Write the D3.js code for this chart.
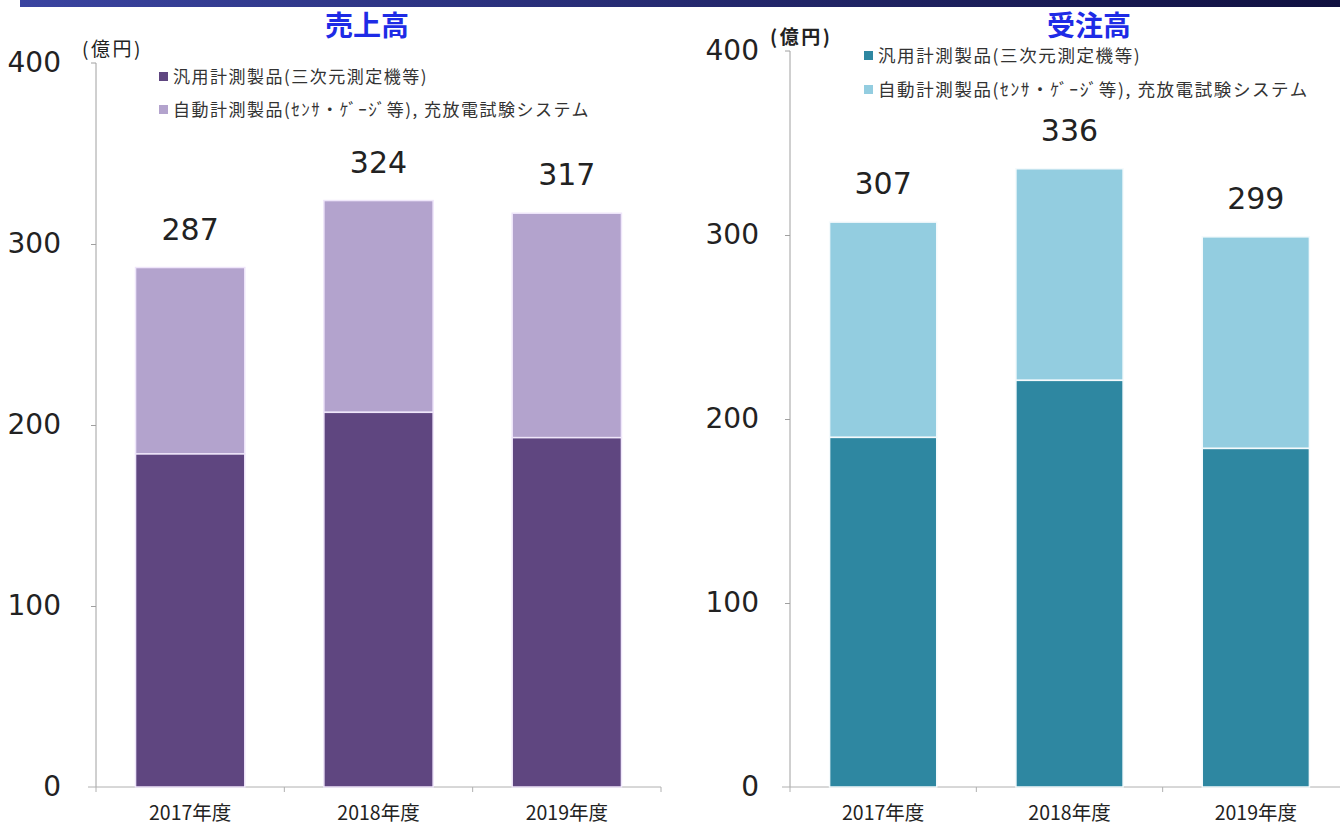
<!DOCTYPE html>
<html>
<head>
<meta charset="utf-8">
<script src="https://cdn.jsdelivr.net/npm/d3@7"></script>
<style>
  body { margin: 0; background: #fff; }
  svg { display: block; }
</style>
</head>
<body>
<svg id="chart" width="1340" height="826"></svg>
<script>
// Daten
var years = ["2017年度", "2018年度", "2019年度"];
var seriesNames = ["汎用計測製品(三次元測定機等)", "自動計測製品(ｾﾝｻ・ｹﾞｰｼﾞ等), 充放電試験システム"];
var salesGeneral = [184, 207, 193];
var salesAuto = [103, 117, 124];
var salesTotal = [287, 324, 317];
var ordersGeneral = [190, 221, 184];
var ordersAuto = [117, 115, 115];
var ordersTotal = [307, 336, 299];
var yTicks = [0, 100, 200, 300, 400];

var svg = d3.select("#chart");
var jp = "'Noto Sans CJK JP', 'Noto Sans', sans-serif";
var num = "'DejaVu Sans', Verdana, sans-serif";

// Band oben
var grad = svg.append("defs").append("linearGradient").attr("id", "band");
grad.append("stop").attr("offset", "0%").attr("stop-color", "#3a44a0");
grad.append("stop").attr("offset", "100%").attr("stop-color", "#101040");
svg.append("rect").attr("x", 20).attr("y", 0).attr("width", 1320).attr("height", 7).attr("fill", "url(#band)");

function drawPanel(opt) {
  var g = svg.append("g");
  var x = d3.scaleBand().domain(years).range([opt.x0, opt.x1]).paddingInner(opt.pad).paddingOuter(opt.pad / 2);
  var y = d3.scaleLinear().domain([0, 400]).range([opt.y0, opt.y1]);

  // Titel
  g.append("text").attr("x", opt.titleX).attr("y", opt.titleY).attr("text-anchor", "middle")
    .attr("font-family", jp).attr("font-weight", "bold").attr("font-size", 28).attr("fill", "#1e2be6")
    .text(opt.title);

  // y Achse
  var yAxis = g.append("g").attr("transform", "translate(" + opt.x0 + ",0)")
    .call(d3.axisLeft(y).tickValues(yTicks).tickSize(5).tickPadding(opt.tickPad));
  yAxis.select(".domain").attr("stroke", "#a0a0a0").attr("d", "M-5," + y(400) + "H0V" + y(0));
  yAxis.selectAll(".tick line").attr("stroke", "#a0a0a0");
  yAxis.selectAll(".tick text").attr("font-family", num).attr("font-size", 28).attr("fill", "#222")
    .attr("dy", "0.3em");
  yAxis.selectAll(".tick").filter(function(d) { return d === 0 || d === 400; }).select("line").remove();

  // x Achse
  var ticksX = years.map(function(d) { return x(d) - x.step() * x.paddingInner() / 2; });
  ticksX.push(opt.x1);
  g.append("line").attr("x1", opt.x0 - 8).attr("x2", opt.x1).attr("y1", y(0)).attr("y2", y(0))
    .attr("stroke", "#b0b0b0");
  g.selectAll(".xt").data(ticksX).enter().append("line")
    .attr("x1", function(d) { return d; }).attr("x2", function(d) { return d; })
    .attr("y1", y(0)).attr("y2", y(0) + 5).attr("stroke", "#b0b0b0");
  g.selectAll(".xl").data(years).enter().append("text")
    .attr("x", function(d) { return x(d) + x.bandwidth() / 2; }).attr("y", 820)
    .attr("text-anchor", "middle").attr("font-family", jp).attr("font-size", 19.5).attr("fill", "#222")
    .text(function(d) { return d; });

  // Balken
  var rows = years.map(function(d, i) { return { year: d, a: opt.lower[i], b: opt.upper[i], t: opt.total[i] }; });
  var bars = g.selectAll(".bar").data(rows).enter().append("g");
  bars.append("rect").attr("x", function(d) { return x(d.year); }).attr("width", x.bandwidth())
    .attr("y", function(d) { return y(d.a + d.b); }).attr("height", function(d) { return y(d.a) - y(d.a + d.b); })
    .attr("fill", opt.c2).attr("stroke", opt.edge).attr("stroke-width", 1.5);
  bars.append("rect").attr("x", function(d) { return x(d.year); }).attr("width", x.bandwidth())
    .attr("y", function(d) { return y(d.a); }).attr("height", function(d) { return y(0) - y(d.a); })
    .attr("fill", opt.c1).attr("stroke", opt.edge).attr("stroke-width", 1.5);
  bars.append("text").attr("x", function(d) { return x(d.year) + x.bandwidth() / 2; })
    .attr("y", function(d) { return y(d.t) - 28; }).attr("text-anchor", "middle")
    .attr("font-family", num).attr("font-size", 30).attr("fill", "#222")
    .text(function(d) { return d.t; });

  // Einheit
  g.append("text").attr("x", opt.unitX).attr("y", opt.unitY).attr("font-family", jp)
    .attr("font-size", 19).attr("letter-spacing", 2.5)
    .attr("font-weight", opt.unitBold ? "bold" : "normal").attr("fill", "#222").text("(億円)");

  // Legende
  [opt.c1, opt.c2].forEach(function(c, i) {
    g.append("rect").attr("x", opt.legX).attr("y", opt.legY + i * opt.legStep - 5).attr("width", 9).attr("height", 9)
      .attr("fill", c);
    g.append("text").attr("x", opt.legX + 14).attr("y", opt.legY + i * opt.legStep).attr("dy", "0.35em")
      .attr("font-family", jp).attr("font-size", opt.legSize).attr("letter-spacing", opt.legSpace)
      .attr("fill", "#333").text(seriesNames[i]);
  });
}

drawPanel({
  title: "売上高", titleX: 367, titleY: 36,
  x0: 96, x1: 661, y0: 787, y1: 63, pad: 0.42, tickPad: 30,
  lower: salesGeneral, upper: salesAuto, total: salesTotal,
  c1: "#5f4680", c2: "#b3a3cd", edge: "#efe6fa",
  unitX: 82, unitY: 56, unitBold: false,
  legX: 159, legY: 77, legStep: 33, legSize: 17, legSpace: 1.5
});

drawPanel({
  title: "受注高", titleX: 1089, titleY: 36,
  x0: 790, x1: 1349, y0: 787, y1: 51, pad: 0.425, tickPad: 26,
  lower: ordersGeneral, upper: ordersAuto, total: ordersTotal,
  c1: "#2e87a1", c2: "#93cde0", edge: "#f4fafc",
  unitX: 770, unitY: 44, unitBold: true,
  legX: 864, legY: 56, legStep: 34, legSize: 17.5, legSpace: 1.6
});
</script>
</body>
</html>
